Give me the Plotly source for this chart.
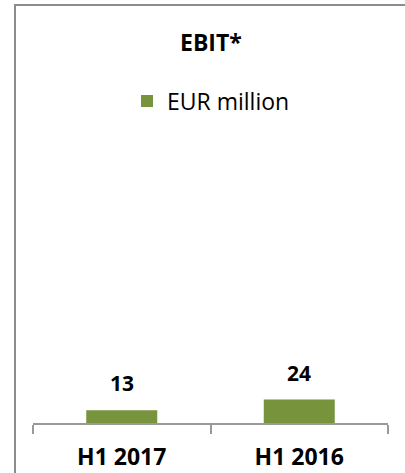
import plotly.graph_objects as go

categories = ["H1 2017", "H1 2016"]
values = [13, 24]
series_name = "EUR million"
title_text = "EBIT*"

W, H = 405, 473
L, R, T, B = 33, 17, 130, 50
plot_w = W - L - R
plot_h = H - T - B

def px_x(px):
    return (px - L) / plot_w

def px_y(py):
    return (H - B - py) / plot_h

fig = go.Figure()
fig.add_trace(go.Bar(
    x=categories, y=values, name=series_name,
    marker=dict(color="#77933C", line=dict(width=0)),
    showlegend=True,
))

for c, v in zip(categories, values):
    fig.add_annotation(
        x=c, y=v, xref="x", yref="y", text=f"<b>{v}</b>",
        showarrow=False, yanchor="bottom", yshift=11,
        font=dict(family="Open Sans", size=21, color="#000000"),
    )

fig.add_annotation(
    x=px_x(211), y=px_y(42), xref="paper", yref="paper",
    text=f"<b>{title_text}</b>", showarrow=False,
    xanchor="center", yanchor="middle",
    font=dict(family="Open Sans", size=23, color="#000000"),
)

fig.add_shape(
    type="rect", xref="paper", yref="paper",
    x0=px_x(15), x1=px_x(500), y0=px_y(600), y1=px_y(5),
    line=dict(color="#8c8c8c", width=2), fillcolor="rgba(0,0,0,0)",
    layer="below",
)

fig.update_layout(
    width=W, height=H,
    margin=dict(l=L, r=R, t=T, b=B, pad=0, autoexpand=False),
    paper_bgcolor="white", plot_bgcolor="white",
    bargap=0.6,
    showlegend=True,
    legend=dict(
        x=px_x(127), y=px_y(101), xanchor="left", yanchor="middle",
        orientation="h", font=dict(family="Open Sans", size=23, color="#000000"),
        itemwidth=30, bgcolor="rgba(0,0,0,0)",
    ),
    xaxis=dict(
        type="category", automargin=False,
        showline=True, linecolor="#999999", linewidth=1.5,
        ticks="outside", tickson="boundaries", ticklen=9, tickwidth=1.5,
        tickcolor="#999999",
        tickfont=dict(family="Open Sans", size=23, color="#000000"),
        tickprefix="<b>", ticksuffix="</b>",
        ticklabelstandoff=13,
        showgrid=False, zeroline=False,
    ),
    yaxis=dict(
        range=[0, 300], visible=False, showgrid=False, zeroline=False,
        automargin=False,
    ),
)

fig.write_html(
    "out.html",
    config={"displayModeBar": False},
    post_script="document.body.style.margin='0';",
)
